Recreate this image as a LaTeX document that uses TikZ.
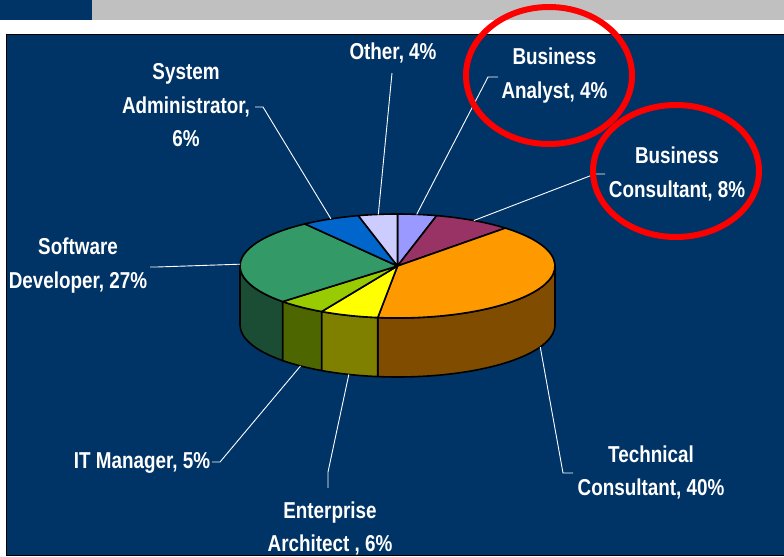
\documentclass[tikz,border=0pt]{standalone}
\usepackage{fontspec}
\setmainfont{Liberation Sans}[FakeStretch=0.82]
\definecolor{navy}{HTML}{003366}
\definecolor{bargray}{HTML}{C0C0C0}
\definecolor{cBA}{HTML}{9999FF}
\definecolor{cBC}{HTML}{993366}
\definecolor{cTC}{HTML}{FF9900}
\definecolor{sTC}{HTML}{804C00}
\definecolor{cEA}{HTML}{FFFF00}
\definecolor{sEA}{HTML}{808000}
\definecolor{cIT}{HTML}{99CC00}
\definecolor{sIT}{HTML}{4D6600}
\definecolor{cSD}{HTML}{339966}
\definecolor{sSD}{HTML}{1A4D33}
\definecolor{cSA}{HTML}{0066CC}
\definecolor{cOT}{HTML}{CCCCFF}
\newcommand\twoln[2]{\vtop{\halign{\hfil##\hfil\cr#1\cr#2\cr}}}
\newcommand\threeln[3]{\vtop{\halign{\hfil##\hfil\cr#1\cr#2\cr#3\cr}}}
\tikzset{
  lbl/.style={text=white, font=\fontsize{23bp}{33.5bp}\selectfont\bfseries, inner sep=0pt, anchor=base},
  lead/.style={draw=white, line width=0.9bp},
  slice/.style={draw=black, line width=1.6bp, line join=round},
  ring/.style={draw=red, line width=6bp}
}
\begin{document}
\begin{tikzpicture}[x=1bp, y=-1bp]
\useasboundingbox (0,0) rectangle (784,557);
\fill[white] (0,0) rectangle (784,557);
% header bars
\fill[navy] (0,0) rectangle (92,20);
\fill[bargray] (92,0) rectangle (784,20);
% panel
\fill[navy] (6,34) rectangle (784,556);
\draw[black, line width=1.5bp] (784,34.5) -- (6.5,34.5) -- (6.5,555.5) -- (784,555.5);
% pie
\begin{scope}[shift={(397.5,266)}, yscale=-1]
  % sides
  \filldraw[slice, fill=sTC] (0:157.5 and 52) arc[start angle=0, end angle=-97.2, x radius=157.5, y radius=52] -- ++(0,-59) arc[start angle=-97.2, end angle=0, x radius=157.5, y radius=52] -- cycle;
  \filldraw[slice, fill=sEA] (-97.2:157.5 and 52) arc[start angle=-97.2, end angle=-118.8, x radius=157.5, y radius=52] -- ++(0,-59) arc[start angle=-118.8, end angle=-97.2, x radius=157.5, y radius=52] -- cycle;
  \filldraw[slice, fill=sIT] (-118.8:157.5 and 52) arc[start angle=-118.8, end angle=-136.8, x radius=157.5, y radius=52] -- ++(0,-59) arc[start angle=-136.8, end angle=-118.8, x radius=157.5, y radius=52] -- cycle;
  \filldraw[slice, fill=sSD] (-136.8:157.5 and 52) arc[start angle=-136.8, end angle=-180, x radius=157.5, y radius=52] -- ++(0,-59) arc[start angle=-180, end angle=-136.8, x radius=157.5, y radius=52] -- cycle;
  % top slices
  \filldraw[slice, fill=cBA] (0,0) -- (90:157.5 and 52) arc[start angle=90, end angle=75.6, x radius=157.5, y radius=52] -- cycle;
  \filldraw[slice, fill=cBC] (0,0) -- (75.6:157.5 and 52) arc[start angle=75.6, end angle=46.8, x radius=157.5, y radius=52] -- cycle;
  \filldraw[slice, fill=cTC] (0,0) -- (46.8:157.5 and 52) arc[start angle=46.8, end angle=-97.2, x radius=157.5, y radius=52] -- cycle;
  \filldraw[slice, fill=cEA] (0,0) -- (-97.2:157.5 and 52) arc[start angle=-97.2, end angle=-118.8, x radius=157.5, y radius=52] -- cycle;
  \filldraw[slice, fill=cIT] (0,0) -- (-118.8:157.5 and 52) arc[start angle=-118.8, end angle=-136.8, x radius=157.5, y radius=52] -- cycle;
  \filldraw[slice, fill=cSD] (0,0) -- (-136.8:157.5 and 52) arc[start angle=-136.8, end angle=-234, x radius=157.5, y radius=52] -- cycle;
  \filldraw[slice, fill=cSA] (0,0) -- (126:157.5 and 52) arc[start angle=126, end angle=104.4, x radius=157.5, y radius=52] -- cycle;
  \filldraw[slice, fill=cOT] (0,0) -- (104.4:157.5 and 52) arc[start angle=104.4, end angle=90, x radius=157.5, y radius=52] -- cycle;
  % leader end points on the pie
  \coordinate (pSA) at (115:157.5 and 52);
  \coordinate (pOT) at (97:157.5 and 52);
  \coordinate (pBA) at (83:157.5 and 52);
  \coordinate (pBC) at (61:157.5 and 52);
  \path (-25:157.5 and 52) ++(0,-59) coordinate (pTC);
  \path (-108:157.5 and 52) ++(0,-59) coordinate (pEA);
  \path (-128:157.5 and 52) ++(0,-59) coordinate (pIT);
  \coordinate (pSD) at (178:157.5 and 52);
\end{scope}
% labels
\node[lbl] (lSA) at (186,80) {\threeln{System}{Administrator,}{6\%}};
\node[lbl] (lOT) at (393,60) {Other, 4\%};
\node[lbl] (lBA) at (554.5,65) {\twoln{Business}{Analyst, 4\%}};
\node[lbl] (lBC) at (677,164) {\twoln{Business}{Consultant, 8\%}};
\node[lbl] (lTC) at (651,462) {\twoln{Technical}{Consultant, 40\%}};
\node[lbl] (lEA) at (330,518) {\twoln{Enterprise}{Architect , 6\%}};
\node[lbl] (lIT) at (142,468) {IT Manager, 5\%};
\node[lbl] (lSD) at (78,255) {\twoln{Software}{Developer, 27\%}};
% leader tick points
\coordinate (tSA1) at (255,107); \coordinate (tSA2) at (263,107);
\coordinate (tOT) at (392,73);
\coordinate (tBA1) at (498,77); \coordinate (tBA2) at (488,77);
\coordinate (tBC1) at (605,174); \coordinate (tBC2) at (595,174);
\coordinate (tTC1) at (573,473); \coordinate (tTC2) at (563,473);
\coordinate (tEA1) at (328,488); \coordinate (tEA2) at (328,472);
\coordinate (tIT1) at (212,462); \coordinate (tIT2) at (220,462);
\coordinate (tSD1) at (150,267); \coordinate (tSD2) at (157,267);
% leaders
\draw[lead] (tSA1) -- (tSA2) -- (pSA);
\draw[lead] (tOT) -- (pOT);
\draw[lead] (tBA1) -- (tBA2) -- (pBA);
\draw[lead] (tBC1) -- (tBC2) -- (pBC);
\draw[lead] (tTC1) -- (tTC2) -- (pTC);
\draw[lead] (tEA1) -- (tEA2) -- (pEA);
\draw[lead] (tIT1) -- (tIT2) -- (pIT);
\draw[lead] (tSD1) -- (tSD2) -- (pSD);
% red highlight rings
\draw[ring] (549,75.5) ellipse [x radius=83, y radius=68.5];
\draw[ring] (676,171) ellipse [x radius=83, y radius=66];
\end{tikzpicture}
\end{document}
